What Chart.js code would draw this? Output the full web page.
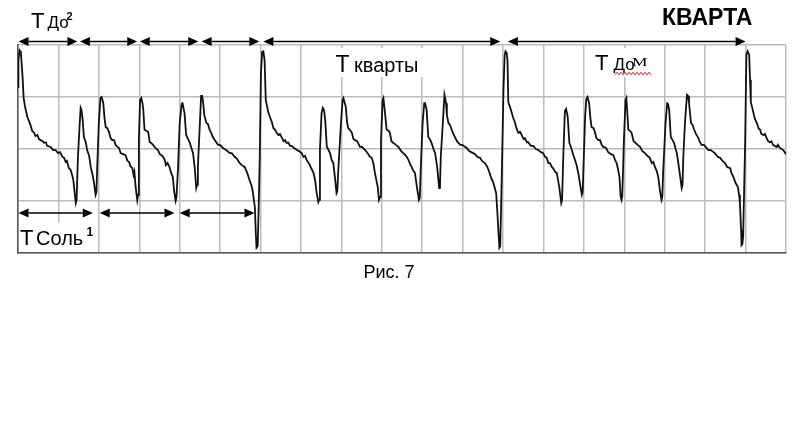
<!DOCTYPE html>
<html>
<head>
<meta charset="utf-8">
<script src="https://cdn.jsdelivr.net/npm/chart.js@4"></script>
<style>
  body { margin: 0; background: #fff; }
  canvas { display: block; }
</style>
</head>
<body>
<canvas id="myChart" width="812" height="424"></canvas>
<script>
// waveform: x in grid divisions, y in divisions from centre line
const period1 = [
  [0.00,1.19],[0.01,1.71],[0.04,1.90],[0.07,1.87],[0.11,1.42],[0.14,0.98],[0.17,0.83],[0.23,0.62],
  [0.27,0.54],[0.31,0.46],[0.35,0.35],[0.40,0.31],[0.43,0.25],[0.48,0.27],[0.52,0.19],[0.56,0.17],
  [0.61,0.15],[0.64,0.12],[0.69,0.13],[0.72,0.06],[0.81,0.04],[0.87,-0.02],[0.93,-0.02],[0.99,-0.08],
  [1.04,-0.06],[1.10,-0.15],[1.14,-0.17],[1.18,-0.25],[1.21,-0.23],[1.26,-0.37],[1.30,-0.40],[1.34,-0.50],
  [1.37,-0.60],[1.40,-0.83],[1.43,-1.04],[1.45,-0.98],[1.48,-0.21],[1.52,0.40],[1.55,0.79],[1.57,0.75],
  [1.60,0.56],[1.63,0.23],[1.68,0.12],[1.71,-0.02],[1.76,-0.13],[1.80,-0.35],[1.84,-0.48],[1.88,-0.65],
  [1.92,-0.88],[1.94,-0.83],[1.96,-0.35],[2.00,0.50],[2.04,0.98],[2.07,1.00],[2.11,0.88],[2.14,0.60],
  [2.17,0.42],[2.21,0.40],[2.25,0.33],[2.29,0.21],[2.33,0.17],[2.38,0.17],[2.41,0.08],[2.46,0.04],
  [2.50,0.02],[2.54,-0.08],[2.60,-0.10],[2.66,-0.12],[2.71,-0.23],[2.75,-0.25],[2.78,-0.33],[2.83,-0.37],
  [2.86,-0.50],[2.88,-0.44],[2.91,-0.73],[2.95,-0.98],[2.97,-0.88],[2.99,0.17],[3.02,0.94],[3.05,0.98],
  [3.08,0.88],[3.10,0.75],[3.13,0.37],[3.17,0.35],[3.22,0.33],[3.26,0.13],[3.29,0.12],[3.34,0.08],
  [3.40,0.02],[3.46,-0.02],[3.51,-0.10],[3.55,-0.12],[3.59,-0.15],[3.63,-0.21],[3.66,-0.31],[3.70,-0.27],
  [3.75,-0.35],[3.78,-0.44],[3.83,-0.54],[3.86,-0.79],[3.90,-1.00],[3.92,-0.94],[3.96,-0.35],[4.00,0.50],
  [4.05,0.87],[4.07,0.88],[4.12,0.69],[4.16,0.27],[4.21,0.19],[4.25,0.12],[4.29,0.02],[4.33,-0.08],
  [4.37,-0.35],[4.41,-0.75],[4.43,-0.69],[4.45,-0.35],[4.50,0.50],[4.53,1.02],[4.55,1.04],[4.58,0.90],
  [4.61,0.65],[4.66,0.50],[4.70,0.48],[4.74,0.37],[4.79,0.29],[4.82,0.23],[4.87,0.17],[4.95,0.08],
  [5.00,0.08],[5.07,0.02],[5.15,-0.02],[5.24,-0.08],[5.29,-0.08],[5.36,-0.15],[5.42,-0.19],[5.48,-0.27],
  [5.54,-0.31],[5.61,-0.35],[5.67,-0.46],[5.73,-0.60],[5.78,-0.71],[5.81,-0.83],[5.86,-1.12],[5.88,-1.56],
  [5.90,-1.90],[5.93,-1.87],[5.95,-1.27],[5.98,-0.21],[6.01,1.46],[6.04,1.87]
];
const period2 = [
  [6.07,1.88],[6.10,1.71],[6.13,0.94],[6.16,0.83],[6.19,0.71],[6.23,0.62],[6.28,0.52],[6.32,0.40],
  [6.36,0.37],[6.40,0.31],[6.44,0.27],[6.48,0.29],[6.52,0.23],[6.57,0.15],[6.61,0.17],[6.64,0.12],
  [6.69,0.12],[6.73,0.06],[6.77,0.06],[6.83,0.02],[6.90,-0.02],[6.95,-0.04],[7.02,-0.08],[7.06,-0.15],
  [7.10,-0.13],[7.14,-0.21],[7.19,-0.27],[7.22,-0.31],[7.26,-0.38],[7.31,-0.46],[7.35,-0.60],[7.39,-0.85],
  [7.43,-1.02],[7.45,-0.98],[7.47,-0.02],[7.51,0.69],[7.54,0.79],[7.57,0.75],[7.60,0.56],[7.64,0.04],
  [7.67,0.00],[7.72,-0.08],[7.76,-0.21],[7.80,-0.27],[7.84,-0.54],[7.88,-0.85],[7.90,-0.81],[7.92,-0.46],
  [7.99,0.50],[8.03,0.94],[8.05,0.98],[8.11,0.81],[8.14,0.52],[8.17,0.40],[8.21,0.37],[8.26,0.31],
  [8.30,0.19],[8.34,0.17],[8.39,0.15],[8.46,0.04],[8.51,0.04],[8.59,-0.02],[8.65,-0.08],[8.71,-0.15],
  [8.75,-0.17],[8.79,-0.27],[8.83,-0.46],[8.90,-0.73],[8.93,-0.98],[8.96,-0.92],[8.98,0.17],[9.02,0.94],
  [9.04,0.98],[9.08,0.69],[9.12,0.37],[9.17,0.35],[9.20,0.31],[9.24,0.15],[9.28,0.12],[9.35,0.08],
  [9.41,0.04],[9.48,-0.04],[9.53,-0.08],[9.60,-0.13],[9.66,-0.21],[9.70,-0.29],[9.74,-0.35],[9.78,-0.42],
  [9.82,-0.46],[9.88,-0.79],[9.92,-0.98],[9.94,-0.94],[9.96,-0.46],[10.01,0.50],[10.05,0.88],[10.07,0.88],
  [10.11,0.75],[10.15,0.23],[10.19,0.19],[10.23,0.12],[10.28,0.00],[10.32,-0.08],[10.37,-0.35],[10.42,-0.75],
  [10.44,-0.69],[10.46,-0.15],[10.51,0.50],[10.55,1.04],[10.56,1.04],[10.59,0.88],[10.61,0.65],[10.65,0.50],
  [10.69,0.46],[10.73,0.37],[10.77,0.29],[10.81,0.23],[10.86,0.15],[10.94,0.08],[10.99,0.08],[11.10,0.02],
  [11.16,-0.04],[11.26,-0.08],[11.31,-0.10],[11.36,-0.15],[11.43,-0.17],[11.48,-0.23],[11.55,-0.27],[11.60,-0.33],
  [11.64,-0.40],[11.70,-0.54],[11.76,-0.65],[11.83,-0.85],[11.86,-1.23],[11.89,-1.65],[11.91,-1.90],[11.93,-1.87],
  [11.97,-0.46],[12.01,1.13],[12.04,1.81],[12.06,1.88]
];
const period3 = [
  [12.09,1.85],[12.11,1.71],[12.13,0.90],[12.17,0.81],[12.21,0.71],[12.25,0.60],[12.30,0.50],[12.33,0.40],
  [12.38,0.31],[12.42,0.33],[12.46,0.27],[12.51,0.19],[12.54,0.21],[12.59,0.13],[12.62,0.13],[12.69,0.06],
  [12.75,0.06],[12.81,0.00],[12.87,-0.02],[12.94,-0.06],[12.99,-0.08],[13.04,-0.15],[13.08,-0.17],[13.12,-0.27],
  [13.16,-0.27],[13.21,-0.35],[13.24,-0.37],[13.29,-0.44],[13.33,-0.46],[13.39,-0.73],[13.44,-1.04],[13.46,-0.98],
  [13.49,-0.15],[13.53,0.73],[13.56,0.77],[13.60,0.62],[13.64,0.12],[13.68,0.04],[13.74,-0.12],[13.78,-0.21],
  [13.82,-0.31],[13.87,-0.50],[13.90,-0.65],[13.95,-0.88],[13.97,-0.83],[13.99,-0.35],[14.03,0.62],[14.06,0.96],
  [14.09,1.00],[14.13,0.88],[14.16,0.60],[14.19,0.42],[14.24,0.40],[14.27,0.33],[14.31,0.21],[14.36,0.17],
  [14.40,0.17],[14.44,0.08],[14.48,0.04],[14.55,0.02],[14.60,-0.06],[14.67,-0.10],[14.73,-0.12],[14.77,-0.21],
  [14.81,-0.27],[14.84,-0.37],[14.88,-0.54],[14.91,-0.92],[14.93,-0.98],[14.95,-0.90],[14.99,0.17],[15.03,0.94],
  [15.05,0.98],[15.07,0.75],[15.10,0.37],[15.14,0.35],[15.18,0.31],[15.23,0.15],[15.26,0.13],[15.33,0.08],
  [15.39,0.04],[15.45,-0.04],[15.51,-0.08],[15.57,-0.13],[15.63,-0.17],[15.68,-0.27],[15.72,-0.25],[15.76,-0.35],
  [15.80,-0.42],[15.84,-0.54],[15.88,-0.79],[15.92,-0.98],[15.94,-0.92],[15.96,-0.46],[16.02,0.50],[16.06,0.88],
  [16.08,0.87],[16.11,0.75],[16.15,0.23],[16.18,0.19],[16.23,0.12],[16.27,0.00],[16.30,-0.08],[16.35,-0.35],
  [16.42,-0.75],[16.44,-0.69],[16.46,-0.15],[16.50,0.50],[16.55,1.04],[16.58,1.02],[16.60,0.90],[16.63,0.65],
  [16.65,0.50],[16.69,0.46],[16.73,0.37],[16.77,0.29],[16.82,0.23],[16.86,0.15],[16.91,0.08],[16.97,0.08],
  [17.08,-0.02],[17.14,-0.02],[17.24,-0.08],[17.31,-0.15],[17.37,-0.17],[17.43,-0.23],[17.49,-0.27],[17.55,-0.35],
  [17.62,-0.37],[17.65,-0.46],[17.70,-0.54],[17.75,-0.65],[17.81,-0.73],[17.84,-0.88],[17.86,-1.04],[17.89,-1.56],
  [17.90,-1.85],[17.92,-1.83],[17.94,-1.69],[17.99,0.17],[18.02,1.81],[18.05,1.88],[18.09,1.81],[18.11,1.33],
  [18.13,0.90],[18.16,0.81],[18.19,0.71],[18.23,0.58],[18.28,0.50],[18.32,0.40],[18.36,0.37],[18.39,0.29],
  [18.44,0.27],[18.48,0.29],[18.52,0.21],[18.56,0.15],[18.60,0.13],[18.64,0.15],[18.68,0.08],[18.77,0.04],
  [18.80,0.08],[18.85,0.02],[18.93,-0.02],[19.00,-0.10]
];

// period spans marked with arrows (grid divisions)
const spansDo2 = [[0, 1.47], [1.52, 2.95], [3.0, 4.46], [4.53, 5.97]];
const spansQuart = [[6.07, 11.93], [12.12, 18.0]];
const spansSol1 = [[0, 1.85], [2.01, 3.87], [3.99, 5.85]];

Chart.defaults.font.family = '"Liberation Sans", Arial, sans-serif';

const points = period1.concat(period2, period3).map(p => ({x: p[0], y: p[1]}));

function arrow(ctx, x1, x2, y) {
    const h = 10, w = 4.5;
    ctx.beginPath();
    ctx.moveTo(x1 + h, y);
    ctx.lineTo(x2 - h, y);
    ctx.stroke();
    ctx.beginPath();
    ctx.moveTo(x1, y); ctx.lineTo(x1 + h, y - w); ctx.lineTo(x1 + h, y + w); ctx.closePath();
    ctx.fill();
    ctx.beginPath();
    ctx.moveTo(x2, y); ctx.lineTo(x2 - h, y - w); ctx.lineTo(x2 - h, y + w); ctx.closePath();
    ctx.fill();
}

const marks = {
    id: 'marks',
    beforeDatasetsDraw(chart) {
        const ctx = chart.ctx;
        ctx.save();
        ctx.fillStyle = '#fff';
        ctx.fillRect(332, 48, 93, 29);
        ctx.fillRect(593, 48, 62, 29);
        ctx.fillRect(19, 222, 77, 30);
        ctx.restore();
    },
    afterDraw(chart) {
        const ctx = chart.ctx;
        const xs = chart.scales.x;
        const px = v => xs.getPixelForValue(v);
        ctx.save();
        ctx.strokeStyle = '#000';
        ctx.fillStyle = '#000';
        ctx.lineWidth = 1.7;
        spansDo2.forEach(s => arrow(ctx, px(s[0]) + 0.5, px(s[1]), 41.5));
        spansQuart.forEach(s => arrow(ctx, px(s[0]), px(s[1]), 41.5));
        spansSol1.forEach(s => arrow(ctx, px(s[0]) + 0.5, px(s[1]), 213));

        ctx.textBaseline = 'alphabetic';
        ctx.textAlign = 'left';
        const ff = '"Liberation Sans", Arial, sans-serif';

        // Т До2
        ctx.font = '22px ' + ff;
        ctx.fillText('Т', 31, 28);
        ctx.font = '17px ' + ff;
        ctx.fillText('До', 47.5, 28);
        ctx.font = 'bold 11px ' + ff;
        ctx.fillText('2', 66.5, 20);

        // Т Соль1
        ctx.font = '22px ' + ff;
        ctx.fillText('Т', 20, 245);
        ctx.font = '20px ' + ff;
        ctx.fillText('Соль', 36, 245);
        ctx.font = 'bold 12px ' + ff;
        ctx.fillText('1', 86.5, 236);

        // Т кварты
        ctx.font = '23px ' + ff;
        ctx.fillText('Т', 335.5, 71.5);
        ctx.font = '20px ' + ff;
        ctx.fillText('кварты', 354, 71.5);

        // Т Дом
        ctx.font = '22px ' + ff;
        ctx.fillText('Т', 595, 69.5);
        ctx.font = '17px ' + ff;
        ctx.fillText('До', 613.5, 69.5);
        ctx.save();
        ctx.translate(632, 65.5);
        ctx.scale(1.45, 1);
        ctx.font = '12px "Liberation Serif", "Times New Roman", serif';
        ctx.fillText('М', 0, 0);
        ctx.restore();
        ctx.strokeStyle = '#e00000';
        ctx.lineWidth = 1;
        ctx.beginPath();
        for (let x = 615, i = 0; x <= 652; x += 2, i++) {
            const y = 73.5 + (i % 2 ? -1.2 : 1.2);
            if (i === 0) ctx.moveTo(x, y); else ctx.lineTo(x, y);
        }
        ctx.stroke();

        // КВАРТА
        ctx.fillStyle = '#000';
        ctx.font = 'bold 23px ' + ff;
        ctx.fillText('КВАРТА', 662, 25);

        // Рис. 7
        ctx.font = '18px ' + ff;
        ctx.textAlign = 'center';
        ctx.fillText('Рис. 7', 389, 278);
        ctx.restore();
    }
};

const config = {
    type: 'line',
    data: {
        datasets: [{
            data: points,
            borderColor: '#111',
            borderWidth: 1.8,
            pointRadius: 0,
            tension: 0,
            fill: false
        }]
    },
    options: {
        responsive: false,
        animation: false,
        layout: { padding: { left: 18, right: 26, top: 45, bottom: 171 } },
        plugins: { legend: { display: false }, tooltip: { enabled: false } },
        scales: {
            x: {
                type: 'linear',
                min: 0,
                max: 19,
                ticks: { display: false, stepSize: 1, maxTicksLimit: 30 },
                grid: { color: '#bcbcbc', lineWidth: 1.5, drawTicks: false },
                border: { color: '#555', width: 1.5 }
            },
            y: {
                min: -2,
                max: 2,
                ticks: { display: false, stepSize: 1 },
                grid: { color: '#bcbcbc', lineWidth: 1.5, drawTicks: false },
                border: { color: '#555', width: 1.5 }
            }
        }
    },
    plugins: [marks]
};

const myChart = new Chart(document.getElementById('myChart'), config);
</script>
</body>
</html>
